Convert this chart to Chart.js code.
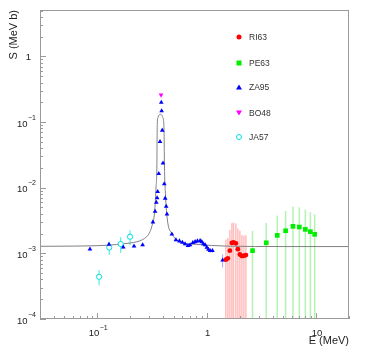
<!DOCTYPE html>
<html>
<head>
<meta charset="utf-8">
<script src="https://cdn.jsdelivr.net/npm/chart.js@4.4.1/dist/chart.umd.min.js"></script>
<style>
  html, body { margin: 0; padding: 0; background: #fff; }
  #wrap { position: relative; width: 375px; height: 361px; }
  #legend { position: absolute; left: 0; top: 0; font: 8.5px "Liberation Sans", Arial, sans-serif; color: #333; }
  .row { position: absolute; height: 10px; display: flex; align-items: center; }
  .mk { width: 10px; height: 10px; position: relative; margin-right: 5px; }
  .mk i { position: absolute; left: 50%; top: 50%; transform: translate(-50%, -50%); display: block; }
</style>
</head>
<body>
<div id="wrap">
  <canvas id="chart" width="375" height="361"></canvas>
  <div id="legend"></div>
</div>
<script>
// RI63 (red circles)
const ri63E = [1.498, 1.563, 1.63, 1.70, 1.761, 1.85, 1.929, 2.012, 2.099, 2.19, 2.284];
const ri63S = [8.0e-4, 8.4e-4, 1.1e-3, 1.44e-3, 1.47e-3, 1.42e-3, 1.16e-3, 9.6e-4, 9.1e-4, 9.2e-4, 9.4e-4];
const ri63Err = [8.3e-4, 8.7e-4, 1.16e-3, 1.44e-3, 1.47e-3, 1.42e-3, 1.24e-3, 1.25e-3, 9.9e-4, 9.3e-4, 9.5e-4];

// PE63 (green squares)
const pe63E = [2.627, 3.507, 4.42, 5.27, 6.15, 7.03, 7.98, 8.87, 9.71];
const pe63S = [1.10e-3, 1.45e-3, 1.88e-3, 2.21e-3, 2.58e-3, 2.52e-3, 2.32e-3, 2.14e-3, 1.95e-3];
const pe63Err = [1.10e-3, 1.45e-3, 1.88e-3, 2.21e-3, 2.58e-3, 2.52e-3, 2.32e-3, 2.14e-3, 1.99e-3];

// ZA95 (blue triangles)
const za95E = [0.0858, 0.128, 0.173, 0.217, 0.26, 0.323, 0.338, 0.347, 0.353, 0.357, 0.365, 0.375,
  0.385, 0.388, 0.393, 0.399, 0.41, 0.418, 0.427, 0.434, 0.481, 0.524, 0.564, 0.60, 0.635, 0.675,
  0.706, 0.748, 0.785, 0.824, 0.872, 0.903, 0.935, 0.969, 1.004, 1.039, 1.076, 1.13, 1.40];
const za95S = [1.16e-3, 1.37e-3, 1.24e-3, 1.29e-3, 1.34e-3, 3.0e-3, 4.35e-3, 5.95e-3, 7.0e-3, 8.7e-3, 0.0164, 0.0502,
  0.199, 0.148, 0.075, 0.0236, 0.0114, 6.9e-3, 5.2e-3, 3.95e-3, 1.96e-3, 1.6e-3, 1.54e-3, 1.47e-3, 1.39e-3, 1.31e-3,
  1.34e-3, 1.45e-3, 1.50e-3, 1.54e-3, 1.56e-3, 1.50e-3, 1.39e-3, 1.34e-3, 1.23e-3, 1.15e-3, 1.10e-3, 1.10e-3, 7.9e-4];
const za95Err = [6e-5, 6e-5, 6e-5, 6e-5, 6e-5, 1e-4, 1.5e-4, 2e-4, 2e-4, 3e-4, 5e-4, 1.5e-3,
  5e-3, 4e-3, 2e-3, 7e-4, 4e-4, 2e-4, 2e-4, 1.5e-4, 8e-5, 8e-5, 8e-5, 8e-5, 8e-5, 8e-5,
  9e-5, 1e-4, 1e-4, 1e-4, 1e-4, 1e-4, 9e-5, 9e-5, 9e-5, 8e-5, 8e-5, 8e-5, 1.8e-4];

// BO48 (magenta inverted triangle)
const bo48E = [0.383];
const bo48S = [0.259];

// JA57 (cyan open circles)
const ja57E = [0.104, 0.1288, 0.164, 0.1995];
const ja57S = [4.4e-4, 1.23e-3, 1.39e-3, 1.79e-3];
const ja57Err = [1.15e-4, 2.8e-4, 3.7e-4, 4.6e-4];

// fitted curve
const fitE = [0.03, 0.06, 0.1, 0.15, 0.2, 0.23, 0.26, 0.283, 0.30, 0.315, 0.336, 0.345, 0.3515, 0.3522,
  0.3543, 0.3594, 0.368, 0.3768, 0.3874, 0.3983, 0.4057, 0.409, 0.4109, 0.42, 0.438, 0.48, 0.571, 0.813, 1.5, 5, 20];
const fitS = [1.28e-3, 1.29e-3, 1.31e-3, 1.36e-3, 1.44e-3, 1.50e-3, 1.62e-3, 1.79e-3, 2.05e-3, 2.55e-3, 4.6e-3, 0.0104, 0.0264, 0.0475,
  0.096, 0.118, 0.129, 0.1315, 0.129, 0.117, 0.096, 0.06, 0.0264, 8.2e-3, 3.22e-3, 2.02e-3, 1.50e-3, 1.37e-3, 1.29e-3, 1.27e-3, 1.27e-3];

const seriesNames = ['RI63', 'PE63', 'ZA95', 'BO48', 'JA57'];

// axis labels: base + exponent
const xTicks = [0.1, 1, 10];
const xTickBase = ['10', '1', '10'];
const xTickExp = ['\u22121', '', ''];
const yTicks = [1e-4, 1e-3, 1e-2, 1e-1, 1];
const yTickBase = ['10', '10', '10', '10', '1'];
const yTickExp = ['\u22124', '\u22123', '\u22122', '\u22121', ''];

const pts = (xs, ys) => xs.map((v, i) => ({ x: v, y: ys[i] }));

function decadeTicks(scale) {
  const out = [];
  for (let e = -5; e <= 2; e++) {
    for (let m = 1; m <= 9; m++) {
      const v = m * Math.pow(10, e);
      if (v >= scale.min * 0.9999 && v <= scale.max * 1.0001) out.push({ value: v, major: m === 1 });
    }
  }
  scale.ticks = out;
}

const FAMILY = '"Liberation Sans", Arial, sans-serif';

const rootStyle = {
  id: 'rootStyle',
  beforeDatasetsDraw(chart) {
    const { ctx, chartArea: a, scales: { x, y } } = chart;
    ctx.save();
    ctx.beginPath();
    ctx.rect(a.left, a.top, a.right - a.left, a.bottom - a.top);
    ctx.clip();
    chart.data.datasets.forEach(ds => {
      if (!ds.errors) return;
      ctx.strokeStyle = ds.errorColor;
      ctx.lineWidth = ds.errorWidth || 1;
      ds.data.forEach((p, k) => {
        const e = ds.errors[k];
        if (!e) return;
        const px = x.getPixelForValue(p.x);
        const top = y.getPixelForValue(p.y + e);
        const lo = p.y - e;
        const bot = lo > 0 ? y.getPixelForValue(lo) : a.bottom + 5;
        ctx.beginPath();
        ctx.moveTo(px, top);
        ctx.lineTo(px, bot);
        ctx.stroke();
      });
    });
    ctx.restore();
  },
  afterDraw(chart) {
    const { ctx, chartArea: a, scales: { x, y } } = chart;
    ctx.save();
    // frame
    ctx.strokeStyle = '#9a9a9a';
    ctx.lineWidth = 1;
    ctx.strokeRect(a.left + 0.5, a.top + 0.5, a.right - a.left - 1, a.bottom - a.top - 1);
    // inward ticks
    ctx.beginPath();
    x.ticks.forEach(t => {
      const px = Math.round(x.getPixelForValue(t.value)) + 0.5;
      const len = t.major ? 6 : 3;
      ctx.moveTo(px, a.bottom);
      ctx.lineTo(px, a.bottom - len);
    });
    y.ticks.forEach(t => {
      const py = Math.round(y.getPixelForValue(t.value)) + 0.5;
      const len = t.major ? 6 : 3;
      ctx.moveTo(a.left, py);
      ctx.lineTo(a.left + len, py);
    });
    ctx.stroke();

    // tick labels with raised exponents
    const baseFont = '9.5px ' + FAMILY;
    const expFont = '7px ' + FAMILY;
    ctx.fillStyle = '#222';
    ctx.textBaseline = 'alphabetic';
    ctx.textAlign = 'left';
    xTicks.forEach((v, i) => {
      const cx = x.getPixelForValue(v);
      ctx.font = baseFont;
      const wb = ctx.measureText(xTickBase[i]).width;
      ctx.font = expFont;
      const we = xTickExp[i] ? ctx.measureText(xTickExp[i]).width + 0.5 : 0;
      const x0 = cx - (wb + we) / 2 + 1;
      ctx.font = baseFont;
      ctx.fillText(xTickBase[i], x0, a.bottom + 17);
      if (we) { ctx.font = expFont; ctx.fillText(xTickExp[i], x0 + wb + 0.5, a.bottom + 11); }
    });
    yTicks.forEach((v, i) => {
      const cy = y.getPixelForValue(v);
      if (yTickExp[i]) {
        ctx.font = expFont;
        const we = ctx.measureText(yTickExp[i]).width;
        const xe = a.left - 4 - we;
        ctx.fillText(yTickExp[i], xe, cy - 2.5);
        ctx.font = baseFont;
        const wb = ctx.measureText(yTickBase[i]).width;
        ctx.fillText(yTickBase[i], xe - 0.5 - wb, cy + 4.5);
      } else {
        ctx.font = baseFont;
        const wb = ctx.measureText(yTickBase[i]).width;
        ctx.fillText(yTickBase[i], a.left - 9 - wb, cy + 3.5);
      }
    });
    ctx.restore();
  }
};

const titleFont = { family: FAMILY, size: 11 };

new Chart(document.getElementById('chart'), {
  type: 'scatter',
  data: {
    datasets: [
      { label: 'RI63', data: pts(ri63E, ri63S), errors: ri63Err, errorColor: 'rgba(255,70,70,0.35)', errorWidth: 1.5,
        pointStyle: 'circle', pointRadius: 2.4, backgroundColor: '#ff0000', borderWidth: 0 },
      { label: 'PE63', data: pts(pe63E, pe63S), errors: pe63Err, errorColor: 'rgba(40,220,40,0.35)', errorWidth: 1.5,
        pointStyle: 'rect', pointRadius: 3.3, backgroundColor: '#00ee00', borderWidth: 0 },
      { label: 'ZA95', data: pts(za95E, za95S), errors: za95Err, errorColor: 'rgba(60,60,255,0.45)', errorWidth: 1,
        pointStyle: 'triangle', pointRadius: 2.7, backgroundColor: '#0000ff', borderWidth: 0 },
      { label: 'BO48', data: pts(bo48E, bo48S),
        pointStyle: 'triangle', rotation: 180, pointRadius: 2.7, backgroundColor: '#ff00ff', borderWidth: 0 },
      { label: 'JA57', data: pts(ja57E, ja57S), errors: ja57Err, errorColor: 'rgba(0,230,230,0.8)', errorWidth: 1,
        pointStyle: 'circle', pointRadius: 2.6, backgroundColor: '#ffffff', borderColor: '#00e0e0', borderWidth: 1 },
      { label: 'fit', type: 'line', data: pts(fitE, fitS), showLine: true, pointRadius: 0,
        borderColor: '#808080', borderWidth: 1, cubicInterpolationMode: 'monotone', fill: false }
    ]
  },
  options: {
    responsive: false,
    animation: false,
    events: [],
    layout: { padding: { top: 10, right: 26, left: 0, bottom: 0 } },
    plugins: { legend: { display: false }, tooltip: { enabled: false } },
    scales: {
      x: {
        type: 'logarithmic',
        min: 0.03,
        max: 20,
        afterBuildTicks: decadeTicks,
        afterFit: s => { s.height = 42; },
        grid: { display: false, drawTicks: false },
        border: { display: false },
        ticks: { display: false, autoSkip: false },
        title: { display: true, text: 'E (MeV)', align: 'end', color: '#222', font: titleFont,
          padding: { top: 0, bottom: 13 } }
      },
      y: {
        type: 'logarithmic',
        min: 1e-4,
        max: 5.1,
        afterBuildTicks: decadeTicks,
        afterFit: s => { s.width = 40; },
        grid: { display: false, drawTicks: false },
        border: { display: false },
        ticks: { display: false, autoSkip: false },
        title: { display: true, text: 'S (MeV b)', align: 'end', color: '#222', font: titleFont,
          padding: { top: 7, bottom: 0 } }
      }
    }
  },
  plugins: [rootStyle]
});

// legend inside the frame
const legendRows = [37, 63, 87, 113, 137];
const markerCss = [
  'width:5px;height:5px;border-radius:50%;background:#ff0000;',
  'width:5px;height:5px;background:#00ee00;',
  'width:0;height:0;border-left:3px solid transparent;border-right:3px solid transparent;border-bottom:5px solid #0000ff;',
  'width:0;height:0;border-left:3px solid transparent;border-right:3px solid transparent;border-top:5px solid #ff00ff;',
  'width:4px;height:4px;border-radius:50%;border:1px solid #00e0e0;'
];
const legend = document.getElementById('legend');
seriesNames.forEach((name, i) => {
  const row = document.createElement('div');
  row.className = 'row';
  row.style.left = '234px';
  row.style.top = (legendRows[i] - 5) + 'px';
  row.innerHTML = `<span class="mk"><i style="${markerCss[i]}"></i></span><span>${name}</span>`;
  legend.appendChild(row);
});
</script>
</body>
</html>
